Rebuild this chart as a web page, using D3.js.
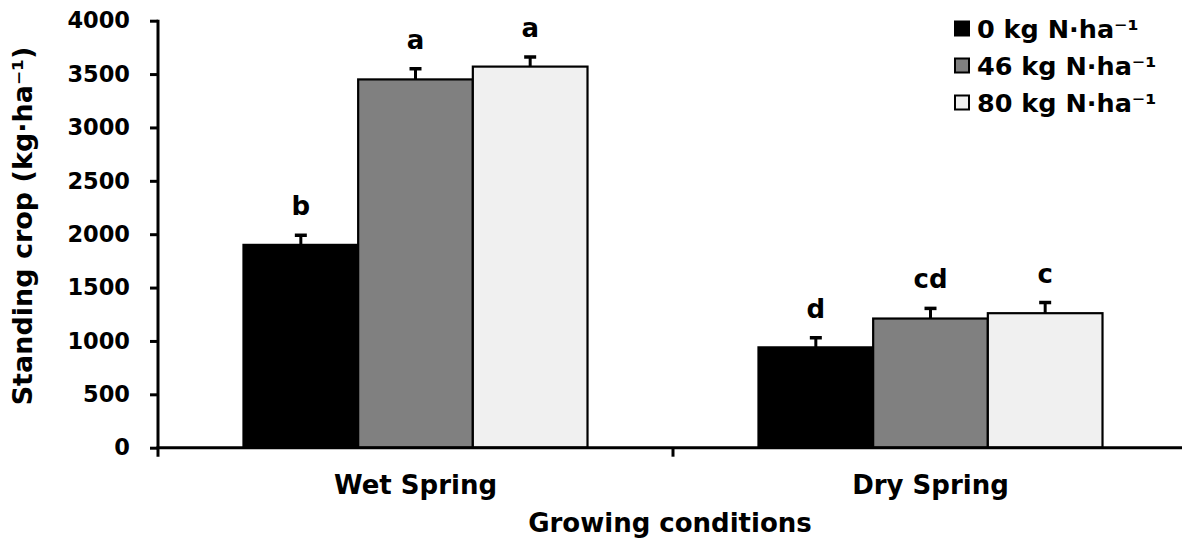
<!DOCTYPE html>
<html>
<head>
<meta charset="utf-8">
<script src="https://cdn.jsdelivr.net/npm/d3@7"></script>
<style>
  html, body { margin: 0; padding: 0; background: #fff; }
  svg { display: block; font-family: "DejaVu Sans", Verdana, sans-serif; font-weight: bold; }
</style>
</head>
<body>
<svg id="chart" width="1182" height="540"></svg>
<script>
// Growing conditions (x categories) and nitrogen rates (series)
const conditions = ["Wet Spring", "Dry Spring"];
const rates = ["0 kg N·ha⁻¹", "46 kg N·ha⁻¹", "80 kg N·ha⁻¹"];
const rateColors = ["#000000", "#808080", "#f0f0f0"];

// Standing crop means (kg·ha⁻¹) per condition, one value per rate
const wetMeans = [1900, 3450, 3570];
const dryMeans = [940, 1210, 1260];
// Standard errors
const wetErrors = [90, 100, 90];
const dryErrors = [90, 95, 100];
// Mean separation letters
const wetLetters = ["b", "a", "a"];
const dryLetters = ["d", "cd", "c"];

const yTicks = [0, 500, 1000, 1500, 2000, 2500, 3000, 3500, 4000];

const rows = [
  { condition: conditions[0], means: wetMeans, errors: wetErrors, letters: wetLetters },
  { condition: conditions[1], means: dryMeans, errors: dryErrors, letters: dryLetters }
];

const svg = d3.select("#chart");
const plot = { left: 158, right: 1188, top: 20.7, bottom: 447.7 };

const x0 = d3.scaleBand().domain(conditions).range([plot.left, plot.right]).padding(0);
const groupWidth = x0.step() * 0.668;
const x1 = d3.scaleBand().domain(rates).range([0, groupWidth]).padding(0);
const y = d3.scaleLinear().domain([0, 4000]).range([plot.bottom, plot.top]);

// Bars, error bars and letters
const groups = svg.append("g").selectAll("g")
  .data(rows).join("g")
  .attr("transform", d => `translate(${x0(d.condition) + (x0.step() - groupWidth) / 2},0)`);

const items = groups.selectAll("g.item")
  .data(d => rates.map((r, i) => ({ rate: r, i, v: d.means[i], e: d.errors[i], l: d.letters[i] })))
  .join("g").attr("class", "item");

items.append("rect")
  .attr("x", d => x1(d.rate))
  .attr("y", d => y(d.v))
  .attr("width", x1.bandwidth())
  .attr("height", d => y(0) - y(d.v))
  .attr("fill", d => rateColors[d.i])
  .attr("stroke", "#000")
  .attr("stroke-width", 2.2);

const cx = d => x1(d.rate) + x1.bandwidth() / 2;
items.append("line")
  .attr("x1", cx).attr("x2", cx)
  .attr("y1", d => y(d.v)).attr("y2", d => y(d.v + d.e))
  .attr("stroke", "#000").attr("stroke-width", 3);
items.append("line")
  .attr("x1", d => cx(d) - 6).attr("x2", d => cx(d) + 6)
  .attr("y1", d => y(d.v + d.e)).attr("y2", d => y(d.v + d.e))
  .attr("stroke", "#000").attr("stroke-width", 3.5);

items.append("text")
  .attr("x", cx)
  .attr("y", d => y(d.v + d.e) - 20)
  .attr("text-anchor", "middle")
  .attr("font-size", 26)
  .attr("fill", "#000")
  .text(d => d.l);

// Y axis
const yAxis = svg.append("g")
  .attr("transform", `translate(${plot.left},0)`)
  .call(d3.axisLeft(y).tickValues(yTicks).tickFormat(d3.format("d"))
    .tickSize(8).tickPadding(20).tickSizeOuter(0));
yAxis.select(".domain").attr("stroke", "#000").attr("stroke-width", 3)
  .attr("d", `M0,${plot.bottom + 9}V${plot.top - 1}`);
yAxis.selectAll(".tick line").attr("stroke", "#000").attr("stroke-width", 3);
yAxis.selectAll(".tick text").attr("font-size", 22.5).attr("fill", "#000")
  .attr("font-family", "DejaVu Sans").attr("font-weight", "bold");

// X axis with tick marks on category boundaries
const xAxis = svg.append("g").attr("transform", `translate(0,${plot.bottom})`);
xAxis.append("line")
  .attr("x1", plot.left - 1.5).attr("x2", plot.right)
  .attr("stroke", "#000").attr("stroke-width", 3);
xAxis.selectAll("line.tick")
  .data(conditions.slice(1)).join("line").attr("class", "tick")
  .attr("x1", d => x0(d)).attr("x2", d => x0(d))
  .attr("y1", 0).attr("y2", 9)
  .attr("stroke", "#000").attr("stroke-width", 3);
xAxis.selectAll("text")
  .data(conditions).join("text")
  .attr("x", d => x0(d) + x0.bandwidth() / 2)
  .attr("y", 46)
  .attr("text-anchor", "middle")
  .attr("font-size", 26)
  .attr("fill", "#000")
  .text(d => d);

// Axis titles
svg.append("text")
  .attr("x", (plot.left + 1182) / 2)
  .attr("y", 532)
  .attr("text-anchor", "middle")
  .attr("font-size", 26)
  .text("Growing conditions");

svg.append("text")
  .attr("transform", "translate(32,226) rotate(-90)")
  .attr("text-anchor", "middle")
  .attr("font-size", 27)
  .text("Standing crop (kg·ha⁻¹)");

// Legend
const legend = svg.append("g").attr("transform", "translate(954,0)");
const entries = legend.selectAll("g").data(rates).join("g")
  .attr("transform", (d, i) => `translate(0,${28.5 + i * 37})`);
entries.append("rect")
  .attr("x", 1).attr("y", -7).attr("width", 14).attr("height", 14)
  .attr("fill", (d, i) => rateColors[i])
  .attr("stroke", "#000").attr("stroke-width", 2);
entries.append("text")
  .attr("x", 23).attr("y", 9)
  .attr("font-size", 25.5)
  .text(d => d);
</script>
</body>
</html>
